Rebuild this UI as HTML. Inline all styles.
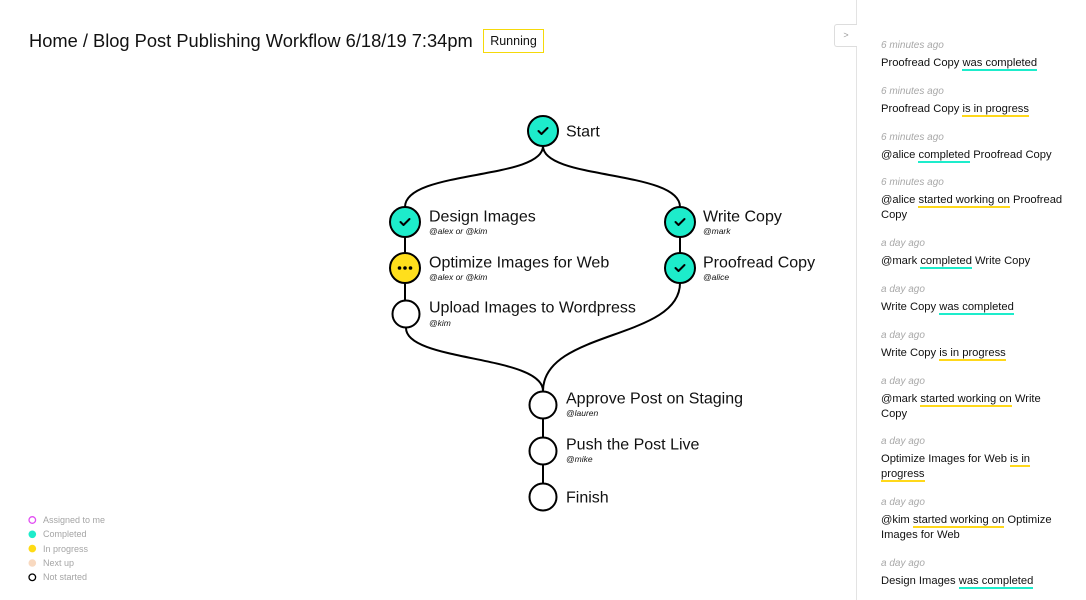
<!DOCTYPE html>
<html><head><meta charset="utf-8">
<style>
*{margin:0;padding:0;box-sizing:border-box}
html,body{width:1086px;height:600px;overflow:hidden;background:#fff;font-family:"Liberation Sans",Arial,sans-serif;color:#111}
.title{position:absolute;left:29px;top:29px;font-size:18.3px;line-height:24px;white-space:nowrap;color:#111}
.badge{position:absolute;left:483px;top:29px;width:61px;height:24px;border:1px solid #f5d90a;font-size:12.5px;line-height:22px;text-align:center;color:#111}
.panel{position:absolute;left:856px;top:0;width:230px;height:600px;border-left:1px solid #e3e3e3;background:#fff}
.btn{position:absolute;left:834px;top:24px;width:23px;height:23px;border:1px solid #ddd;border-right:none;border-radius:3px 0 0 3px;font-size:9px;line-height:21px;text-align:center;color:#999;background:#fff}
.e{position:absolute;left:881px;white-space:nowrap}
.t{font-size:10px;line-height:12px;font-style:italic;color:#a8a8a8;height:12px}
.m{font-size:11.2px;line-height:15px;color:#111;margin-top:4.5px}
.g{border-bottom:2px solid #1deccb}
.y{border-bottom:2px solid #ffd81a}
.leg{position:absolute;left:43px;font-size:9px;line-height:12px;color:#a5a5a5;white-space:nowrap}
svg{position:absolute;left:0;top:0}
</style></head><body>
<div class="title">Home / Blog Post Publishing Workflow 6/18/19 7:34pm</div>
<div class="badge">Running</div>

<svg width="1086" height="600" viewBox="0 0 1086 600">
<g fill="none" stroke="#000" stroke-width="2">
<path d="M543,146 C543,180 405,170 405,207"/>
<path d="M543,146 C543,180 680,170 680,207"/>
<path d="M405,237 L405,253"/>
<path d="M405,283 L405,300"/>
<path d="M680,237 L680,253"/>
<path d="M406,328 C406,362 543,355 543,391"/>
<path d="M680,283 C680,340 543,330 543,391"/>
<path d="M543,419 L543,437"/>
<path d="M543,465 L543,483"/>
</g>
<g stroke="#000" stroke-width="2">
<circle cx="543" cy="131" r="15" fill="#1deccb"/>
<circle cx="405" cy="222" r="15" fill="#1deccb"/>
<circle cx="405" cy="268" r="15" fill="#ffdf1c"/>
<circle cx="406" cy="314" r="13.5" fill="#fff"/>
<circle cx="680" cy="222" r="15" fill="#1deccb"/>
<circle cx="680" cy="268" r="15" fill="#1deccb"/>
<circle cx="543" cy="405" r="13.5" fill="#fff"/>
<circle cx="543" cy="451" r="13.5" fill="#fff"/>
<circle cx="543" cy="497" r="13.5" fill="#fff"/>
</g>
<g fill="none" stroke="#000" stroke-width="2" stroke-linecap="round" stroke-linejoin="round">
<path d="M538.5,131 L541.5,134 L547.5,128"/>
<path d="M400.5,222 L403.5,225 L409.5,219"/>
<path d="M675.5,222 L678.5,225 L684.5,219"/>
<path d="M675.5,268 L678.5,271 L684.5,265"/>
</g>
<g fill="#000">
<circle cx="399.5" cy="268" r="1.8"/><circle cx="405" cy="268" r="1.8"/><circle cx="410.5" cy="268" r="1.8"/>
</g>
<g font-family="Liberation Sans, Arial, sans-serif" font-size="16" fill="#111">
<text x="566" y="136.5">Start</text>
<text x="429" y="221.5">Design Images</text>
<text x="429" y="267.5">Optimize Images for Web</text>
<text x="429" y="312.5">Upload Images to Wordpress</text>
<text x="703" y="221.5">Write Copy</text>
<text x="703" y="267.5">Proofread Copy</text>
<text x="566" y="403.5">Approve Post on Staging</text>
<text x="566" y="449.5">Push the Post Live</text>
<text x="566" y="502.5">Finish</text>
</g>
<g font-family="Liberation Sans, Arial, sans-serif" font-size="8.5" font-style="italic" fill="#111">
<text x="429" y="234">@alex or @kim</text>
<text x="429" y="280">@alex or @kim</text>
<text x="429" y="326">@kim</text>
<text x="703" y="234">@mark</text>
<text x="703" y="280">@alice</text>
<text x="566" y="416">@lauren</text>
<text x="566" y="462">@mike</text>
</g>
<circle cx="32.3" cy="520" r="3.3" fill="none" stroke="#e14df2" stroke-width="1.3"/>
<circle cx="32.3" cy="534.3" r="3.8" fill="#1deccb"/>
<circle cx="32.3" cy="548.6" r="3.8" fill="#ffdb14"/>
<circle cx="32.3" cy="563" r="3.8" fill="#f8d9c0"/>
<circle cx="32.3" cy="577.3" r="3.3" fill="none" stroke="#000" stroke-width="1.3"/>
</svg>

<div class="leg" style="top:514px">Assigned to me</div>
<div class="leg" style="top:528.3px">Completed</div>
<div class="leg" style="top:542.6px">In progress</div>
<div class="leg" style="top:557px">Next up</div>
<div class="leg" style="top:571.3px">Not started</div>

<div class="panel"></div>
<div class="btn">&gt;</div>

<div class="e" style="top:39.5px"><div class="t">6 minutes ago</div><div class="m">Proofread Copy <span class="g">was completed</span></div></div>
<div class="e" style="top:85.5px"><div class="t">6 minutes ago</div><div class="m">Proofread Copy <span class="y">is in progress</span></div></div>
<div class="e" style="top:131.5px"><div class="t">6 minutes ago</div><div class="m">@alice <span class="g">completed</span> Proofread Copy</div></div>
<div class="e" style="top:176.5px"><div class="t">6 minutes ago</div><div class="m">@alice <span class="y">started working on</span> Proofread<br>Copy</div></div>
<div class="e" style="top:237.5px"><div class="t">a day ago</div><div class="m">@mark <span class="g">completed</span> Write Copy</div></div>
<div class="e" style="top:283.5px"><div class="t">a day ago</div><div class="m">Write Copy <span class="g">was completed</span></div></div>
<div class="e" style="top:329.5px"><div class="t">a day ago</div><div class="m">Write Copy <span class="y">is in progress</span></div></div>
<div class="e" style="top:375.5px"><div class="t">a day ago</div><div class="m">@mark <span class="y">started working on</span> Write<br>Copy</div></div>
<div class="e" style="top:435.5px"><div class="t">a day ago</div><div class="m">Optimize Images for Web <span class="y">is in</span><br><span class="y">progress</span></div></div>
<div class="e" style="top:496.5px"><div class="t">a day ago</div><div class="m">@kim <span class="y">started working on</span> Optimize<br>Images for Web</div></div>
<div class="e" style="top:557.5px"><div class="t">a day ago</div><div class="m">Design Images <span class="g">was completed</span></div></div>
</body></html>
